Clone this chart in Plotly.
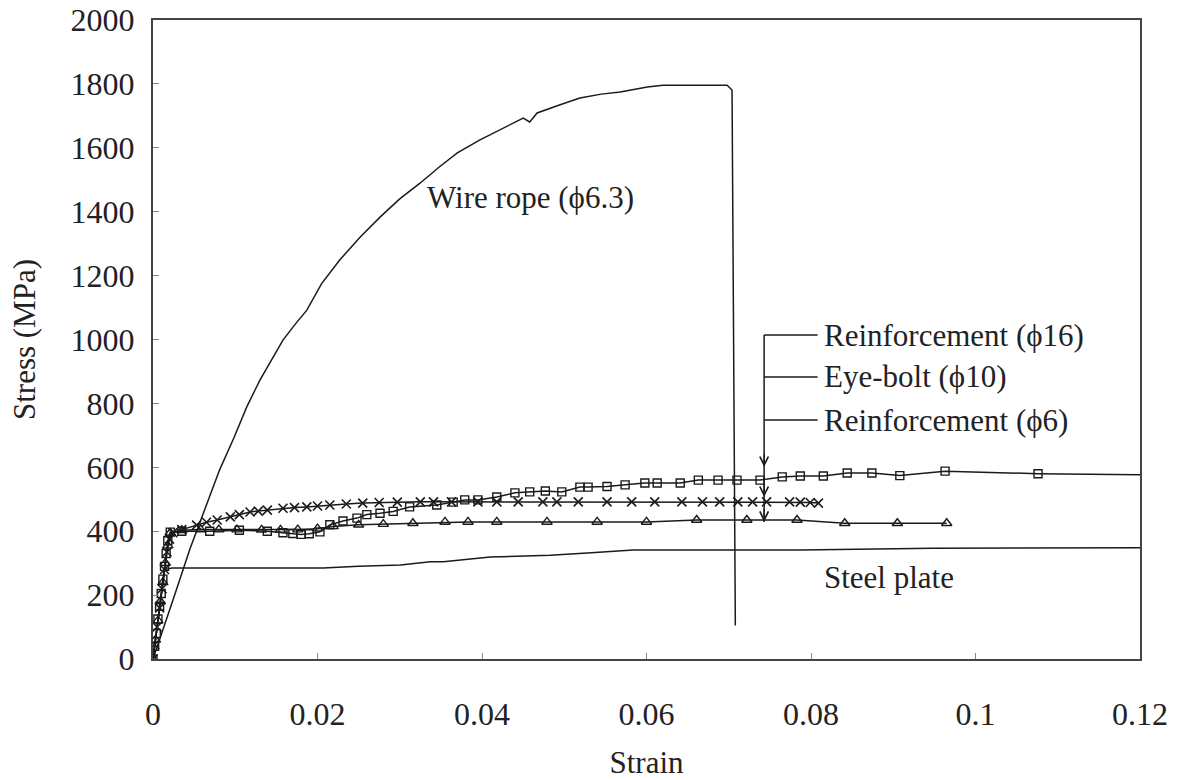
import plotly.graph_objects as go

# ---------------- data ----------------
wire_strain = [0, 0.0008, 0.0025, 0.0045, 0.0067, 0.0081, 0.0098, 0.0114, 0.0130, 0.0145,
               0.0158, 0.0172, 0.0187, 0.0205, 0.0227, 0.0252, 0.0276, 0.0300, 0.0325,
               0.0348, 0.0370, 0.0397, 0.0425, 0.0450, 0.0458, 0.0467, 0.0495, 0.0519,
               0.0545, 0.0568, 0.0601, 0.0620, 0.0698, 0.0704, 0.0705, 0.0708]
wire_stress = [0, 60, 190, 345, 498, 592, 690, 789, 873, 940,
               998, 1045, 1092, 1175, 1249, 1321, 1383, 1440, 1490,
               1540, 1584, 1624, 1660, 1693, 1681, 1709, 1735, 1756,
               1768, 1775, 1790, 1796, 1796, 1781, 1370, 105]

plate_strain = [0, 0.0005, 0.0010, 0.0014, 0.0023, 0.0100, 0.0207, 0.0250, 0.0301, 0.0337,
                0.0353, 0.0410, 0.0483, 0.0528, 0.0584, 0.0787, 0.0948, 0.1240]
plate_stress = [0, 100, 200, 280, 285, 285, 285, 290, 294, 304,
                304, 319, 325, 332, 341, 341, 347, 348]

r16_strain = [0, 0.0002, 0.0004, 0.0006, 0.0008, 0.0010, 0.0012, 0.0014, 0.0016, 0.0018, 0.0021,
              0.0035, 0.0069, 0.0105, 0.0139, 0.0158, 0.0170, 0.0180, 0.0190, 0.0203, 0.0215,
              0.0231, 0.0248, 0.0260, 0.0276, 0.0292, 0.0312, 0.0345, 0.0365, 0.0379, 0.0395,
              0.0418, 0.0440, 0.0458, 0.0477, 0.0497, 0.0519, 0.0529, 0.0552, 0.0574, 0.0598,
              0.0613, 0.0641, 0.0663, 0.0687, 0.0710, 0.0738, 0.0765, 0.0787, 0.0815, 0.0844,
              0.0874, 0.0908, 0.0963, 0.1076, 0.1240]
r16_stress = [0, 40, 80, 125, 165, 205, 250, 290, 330, 370, 397,
              400, 400, 403, 400, 395, 393, 390, 392, 398, 420,
              432, 441, 452, 456, 462, 476, 482, 491, 498, 498,
              507, 520, 523, 526, 523, 538, 538, 540, 545, 551,
              551, 551, 560, 560, 560, 560, 570, 573, 573, 582,
              582, 574, 588, 580, 576]

eye_strain = [0, 0.0002, 0.0005, 0.0008, 0.0011, 0.0014, 0.0017, 0.0020, 0.0024,
              0.0035, 0.0053, 0.0065, 0.0078, 0.0094, 0.0105, 0.0118, 0.0128, 0.0139,
              0.0158, 0.0172, 0.0187, 0.0200, 0.0215, 0.0235, 0.0255, 0.0275, 0.0297,
              0.0325, 0.0341, 0.0363, 0.0395, 0.0418, 0.0444, 0.0474, 0.0491, 0.0517,
              0.0552, 0.0582, 0.0610, 0.0643, 0.0668, 0.0689, 0.0711, 0.0729, 0.0746,
              0.0774, 0.0787, 0.0799, 0.0809]
eye_stress = [0, 45, 100, 160, 220, 280, 335, 375, 395,
              405, 419, 428, 435, 445, 452, 460, 463, 466,
              472, 474, 476, 479, 482, 485, 488, 490, 491,
              492, 492, 492, 492, 492, 492, 492, 492, 492,
              492, 492, 492, 492, 492, 492, 492, 492, 492,
              492, 491, 490, 488]

r6_strain = [0, 0.0003, 0.0006, 0.0009, 0.0012, 0.0015, 0.0018, 0.0021,
             0.0035, 0.0058, 0.0080, 0.0102, 0.0132, 0.0155, 0.0176, 0.0200, 0.0219,
             0.0250, 0.0280, 0.0316, 0.0355, 0.0383, 0.0418, 0.0479, 0.0540, 0.0600,
             0.0661, 0.0722, 0.0783, 0.0841, 0.0905, 0.0965]
r6_stress = [0, 60, 120, 180, 240, 300, 355, 395,
             403, 405, 405, 405, 404, 404, 405, 408, 415,
             420, 422, 425, 429, 429, 429, 429, 429, 429,
             435, 435, 435, 425, 425, 425]

x_ticks = [0, 0.02, 0.04, 0.06, 0.08, 0.1, 0.12]
x_tick_text = ["0", "0.02", "0.04", "0.06", "0.08", "0.1", "0.12"]
y_ticks = [0, 200, 400, 600, 800, 1000, 1200, 1400, 1600, 1800, 2000]

label_names = ["Reinforcement (\u03d516)", "Eye-bolt (\u03d510)", "Reinforcement (\u03d56)"]
label_stress = [1014, 883, 748]
arrow_tips = [601, 507, 429]
bracket_x = 0.0743
label_x = 0.0813

# ---------------- figure ----------------
FONT = "Liberation Serif, Times New Roman, serif"
INK = "#222222"
fig = go.Figure()

line_style = dict(color="#1a1a1a", width=1.5)

fig.add_trace(go.Scatter(x=wire_strain, y=wire_stress, mode="lines", line=line_style,
                         showlegend=False))
fig.add_trace(go.Scatter(x=plate_strain, y=plate_stress, mode="lines", line=line_style,
                         showlegend=False))
fig.add_trace(go.Scatter(x=r6_strain, y=r6_stress, mode="lines+markers", line=line_style,
                         marker=dict(symbol="triangle-up-open", size=9,
                                     color="#1a1a1a", line=dict(width=1.4)),
                         showlegend=False))
fig.add_trace(go.Scatter(x=eye_strain, y=eye_stress, mode="lines+markers", line=line_style,
                         marker=dict(symbol="x-thin-open", size=9,
                                     color="#1a1a1a", line=dict(width=1.6, color="#1a1a1a")),
                         showlegend=False))
fig.add_trace(go.Scatter(x=r16_strain, y=r16_stress, mode="lines+markers", line=line_style,
                         marker=dict(symbol="square-open", size=8,
                                     color="#1a1a1a", line=dict(width=1.4)),
                         showlegend=False))

# bracket for the three labels
fig.add_shape(type="line", x0=bracket_x, x1=bracket_x, y0=label_stress[0], y1=arrow_tips[-1],
              line=dict(color="#1a1a1a", width=1.5))
for ys in label_stress:
    fig.add_shape(type="line", x0=bracket_x, x1=label_x - 0.0005, y0=ys, y1=ys,
                  line=dict(color="#1a1a1a", width=1.5))
for name, ys in zip(label_names, label_stress):
    fig.add_annotation(x=label_x, y=ys, text=name, showarrow=False, xanchor="left",
                       yanchor="middle", font=dict(family=FONT, size=31, color=INK))
for yt in arrow_tips:
    fig.add_annotation(x=bracket_x, y=yt, ax=bracket_x, ay=yt + 45, axref="x", ayref="y",
                       text="", showarrow=True, arrowhead=5, arrowsize=1.3, arrowwidth=1.3,
                       arrowcolor="#1a1a1a")

fig.add_annotation(x=0.0331, y=1446, text="Wire rope (\u03d56.3)", showarrow=False,
                   xanchor="left", yanchor="middle", font=dict(family=FONT, size=31, color=INK))
fig.add_annotation(x=label_x, y=254, text="Steel plate", showarrow=False,
                   xanchor="left", yanchor="middle", font=dict(family=FONT, size=31, color=INK))

axis_common = dict(showline=True, linecolor="#444444", linewidth=2, mirror=True,
                   showgrid=False, zeroline=False, ticks="inside", ticklen=6,
                   tickcolor="#888888", tickwidth=1, automargin=False,
                   tickfont=dict(family=FONT, size=32, color=INK))

fig.update_xaxes(range=[0, 0.12], tickvals=x_ticks, ticktext=x_tick_text,
                 title=dict(text="Strain", font=dict(family=FONT, size=31, color=INK), standoff=28),
                 ticklabelstandoff=26, **axis_common)
fig.update_yaxes(range=[0, 2000], tickvals=y_ticks,
                 title=dict(text="Stress (MPa)", font=dict(family=FONT, size=31, color=INK), standoff=26),
                 ticklabelstandoff=10, **axis_common)

fig.update_layout(width=1178, height=780, autosize=False,
                  margin=dict(l=153, r=38, t=20, b=121),
                  paper_bgcolor="white", plot_bgcolor="white")

fig.write_html("out.html")
